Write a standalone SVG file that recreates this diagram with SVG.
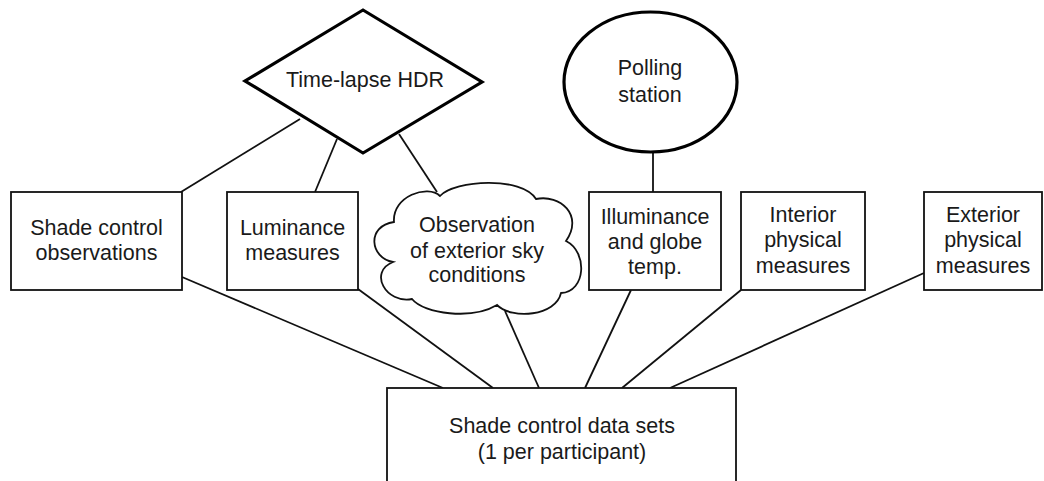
<svg xmlns="http://www.w3.org/2000/svg" width="1044" height="481" viewBox="0 0 1044 481">
<style>
.box{fill:#fff;stroke:#111;stroke-width:1.8}
.thick{fill:#fff;stroke:#000;stroke-width:3.2}
.cloud{fill:#fff;stroke:#111;stroke-width:1.8}
.ln{stroke:#111;stroke-width:1.8;fill:none}
text{font-family:"Liberation Sans",Arial,Helvetica,sans-serif;font-size:21.5px;fill:#1a1a1a;text-anchor:middle}
</style>
<rect width="1044" height="481" fill="#fff"/>
<g id="connectors">
<line class="ln" x1="300" y1="119" x2="181" y2="192"/>
<line class="ln" x1="337" y1="139" x2="315" y2="192"/>
<line class="ln" x1="399" y1="134" x2="437" y2="192"/>
<line class="ln" x1="653" y1="152" x2="653" y2="192"/>
<line class="ln" x1="182" y1="277" x2="443" y2="388"/>
<line class="ln" x1="358" y1="289" x2="493" y2="388"/>
<line class="ln" x1="505" y1="311" x2="539" y2="388"/>
<line class="ln" x1="631" y1="290" x2="585" y2="388"/>
<line class="ln" x1="741" y1="290" x2="622" y2="388"/>
<line class="ln" x1="924" y1="273" x2="670" y2="388"/>
</g>
<g id="hdr">
<polygon class="thick" points="363,10 482,82 363,153 245,81"/>
<text x="365" y="87">Time-lapse HDR</text>
</g>
<g id="polling">
<ellipse class="thick" cx="650.5" cy="82" rx="86.5" ry="70"/>
<text x="650" y="75">Polling</text>
<text x="650" y="102">station</text>
</g>
<g id="shade-obs">
<rect class="box" x="11" y="192" width="171" height="98"/>
<text x="96.5" y="235">Shade control</text>
<text x="96.5" y="260">observations</text>
</g>
<g id="luminance">
<rect class="box" x="227" y="192" width="131" height="98"/>
<text x="292.5" y="235">Luminance</text>
<text x="292.5" y="260">measures</text>
</g>
<g id="sky">
<path class="cloud" d="M393,262 C370,258 366,226 394,222 C392,196 428,184 440,196 C455,180 522,176 536,199 C560,194 584,215 566,241 C588,252 586,292 561,293 C556,316 512,320 497,305 C472,320 424,314 412,299 C386,304 368,272 393,262 Z"/>
<text x="477" y="232">Observation</text>
<text x="477" y="258">of exterior sky</text>
<text x="477" y="282">conditions</text>
</g>
<g id="illuminance">
<rect class="box" x="589" y="192" width="132" height="98"/>
<text x="655" y="224">Illuminance</text>
<text x="655" y="249">and globe</text>
<text x="655" y="274">temp.</text>
</g>
<g id="interior">
<rect class="box" x="741" y="192" width="124" height="98"/>
<text x="803" y="222">Interior</text>
<text x="803" y="247">physical</text>
<text x="803" y="273">measures</text>
</g>
<g id="exterior">
<rect class="box" x="924" y="192" width="118" height="98"/>
<text x="983" y="222">Exterior</text>
<text x="983" y="247">physical</text>
<text x="983" y="273">measures</text>
</g>
<g id="datasets">
<rect class="box" x="387" y="388" width="349" height="100"/>
<text x="562" y="433">Shade control data sets</text>
<text x="562" y="459">(1 per participant)</text>
</g>
</svg>
